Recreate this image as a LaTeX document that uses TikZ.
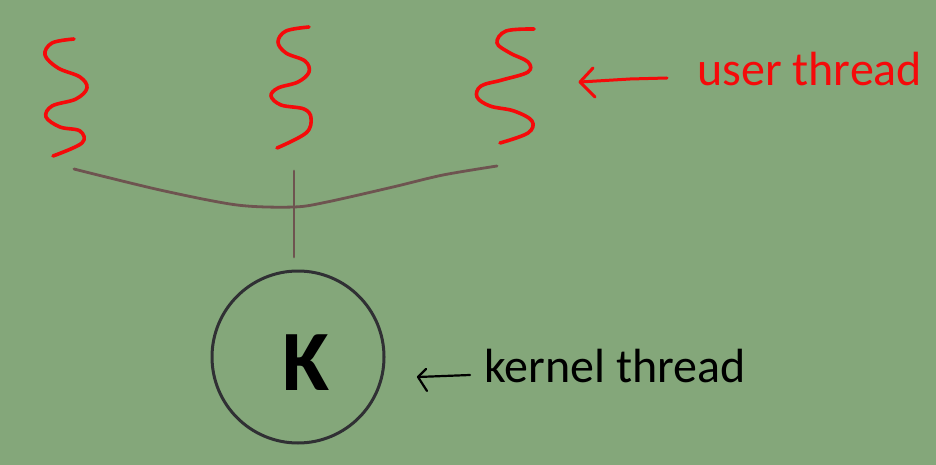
\documentclass[tikz,border=0pt]{standalone}
\usepackage{fontspec}
\setmainfont{Carlito}
\definecolor{bg}{RGB}{132,167,122}
\definecolor{redink}{RGB}{245,10,10}
\definecolor{brownink}{RGB}{110,84,80}
\definecolor{circink}{RGB}{48,48,52}
\begin{document}
\begin{tikzpicture}[x=1pt,y=-1pt,
  squig/.style={draw=redink,line width=3.6pt,line cap=round,line join=round},
  basel/.style={draw=brownink,line width=2.8pt,line cap=round},
  labeltext/.style={font=\fontsize{48}{50}\selectfont,inner sep=0pt,anchor=base west},
  handarrow/.style={line width=2.2pt,line cap=round,line join=round}]
\fill[bg] (0,0) rectangle (936,465);
\useasboundingbox (0,0) rectangle (936,465);
% user threads
\draw[squig] plot[smooth,tension=0.6] coordinates {(74,39) (52,43) (45,55) (58,68) (80,77) (87,88) (76,99) (52,106) (46,117) (60,127) (80,131) (82,143) (53,156)};
\draw[squig] plot[smooth,tension=0.6] coordinates {(309,27) (286,31) (278,42) (286,53) (305,61) (309,72) (298,82) (278,88) (271,96) (281,105) (304,109) (311,118) (306,133) (277,148)};
\draw[squig] plot[smooth,tension=0.6] coordinates {(534,29) (506,31) (497,43) (510,53) (528,62) (528,72) (502,80) (481,86) (477,97) (490,106) (514,111) (532,121) (528,133) (500,143)};
% connecting line
\coordinate (bl) at (74,169);
\coordinate (bm) at (294,207);
\coordinate (br) at (497,166);
\draw[basel] plot[smooth,tension=0.5] coordinates {(bl) (160,190) (237,205) (bm) (327,202) (393,187) (443,175) (br)};
\coordinate (vt) at (294,171);
% kernel thread
\node[circle,draw=circink,line width=3pt,minimum size=172pt,inner sep=0pt] (k) at (298,357) {};
\coordinate (vb) at (294,257);
\draw[basel] (vt) -- (vb);
\node[font=\fontsize{86}{90}\selectfont\bfseries,text=black,inner sep=0pt,anchor=base] (kl) at (306,390) {K};
% labels
\node[labeltext,text=redink] (ut) at (697,86) {user thread};
\node[labeltext,text=black] (kt) at (484,382) {kernel thread};
% red arrow
\coordinate (ra) at (580,82);
\coordinate (rt) at (667,78);
\draw[handarrow,draw=redink,line width=3pt] (rt) -- (630,79) -- (ra);
\draw[handarrow,draw=redink,line width=3pt] (593,68) -- (ra) -- (595,97);
% black arrow
\coordinate (ka) at (418,377);
\coordinate (kk) at (470,375);
\draw[handarrow,draw=black] (kk) -- (ka);
\draw[handarrow,draw=black] (426,369) -- (ka) -- (427,391);
\end{tikzpicture}
\end{document}
